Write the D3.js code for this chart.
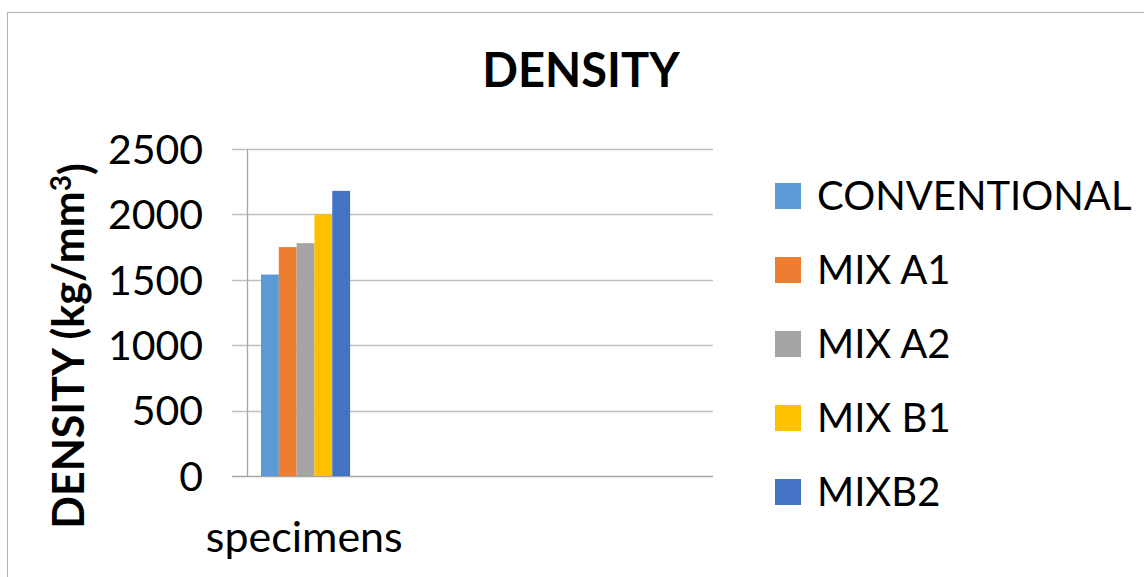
<!DOCTYPE html>
<html>
<head>
<meta charset="utf-8">
<script src="https://cdn.jsdelivr.net/npm/d3@7"></script>
<style>
  html, body { margin: 0; padding: 0; background: #fff; }
  svg { display: block; }
  text { font-family: Lato, "Open Sans", sans-serif; fill: #000; }
</style>
</head>
<body>
<svg id="chart" width="1144" height="577"></svg>
<script>
// ---- data ----
const categories = ["specimens", "", "", ""];
const seriesNames = ["CONVENTIONAL", "MIX A1", "MIX A2", "MIX B1", "MIXB2"];
const seriesValues = [1540, 1750, 1780, 2000, 2180];
const seriesColors = ["#5B9BD5", "#ED7D31", "#A5A5A5", "#FFC000", "#4472C4"];
const yTicks = [0, 500, 1000, 1500, 2000, 2500];
const chartTitle = "DENSITY";
const yTitle = "DENSITY (kg/mm";

// ---- layout ----
const svg = d3.select("#chart");
const plot = { left: 247, right: 713, top: 149, bottom: 476 };

svg.append("rect")
  .attr("x", 7.5).attr("y", 12.5)
  .attr("width", 1160).attr("height", 600)
  .attr("fill", "#fff").attr("stroke", "#b3b3b3").attr("stroke-width", 1);

const y = d3.scaleLinear().domain([0, 2500]).range([plot.bottom, plot.top]);
const x0 = d3.scaleBand().domain(d3.range(categories.length)).range([plot.left, plot.right]).padding(0);
const bw = x0.bandwidth();
const x1 = d3.scaleBand().domain(seriesNames).range([bw * 0.12, bw * 0.885]).padding(0);

// gridlines
const grid = svg.append("g");
grid.selectAll("line").data(yTicks).join("line")
  .attr("x1", plot.left - 15).attr("x2", plot.right)
  .attr("y1", d => Math.round(y(d)) + 0.5).attr("y2", d => Math.round(y(d)) + 0.5)
  .attr("stroke", d => d === 0 ? "#a6a6a6" : "#bfbfbf").attr("stroke-width", 1.3);

// vertical axis line
svg.append("line")
  .attr("x1", plot.left + 0.5).attr("x2", plot.left + 0.5)
  .attr("y1", y(2500)).attr("y2", y(0))
  .attr("stroke", "#a6a6a6").attr("stroke-width", 1.3);

// y tick labels via d3 axis
const yAxis = d3.axisLeft(y).tickValues(yTicks).tickSize(0).tickPadding(0).tickFormat(d3.format("d"));
const gy = svg.append("g").attr("transform", `translate(${plot.left - 44},0)`).call(yAxis);
gy.select(".domain").remove();
gy.selectAll("text").style("font-family", "Lato, sans-serif").style("font-size", "41px").attr("fill", "#000").attr("dy", "0.35em");

// bars
const dataRows = seriesNames.map((n, i) => ({ name: n, value: seriesValues[i], color: seriesColors[i] }));
svg.append("g").attr("transform", `translate(${x0(0)},0)`)
  .selectAll("rect").data(dataRows).join("rect")
  .attr("x", d => x1(d.name))
  .attr("width", x1.bandwidth())
  .attr("y", d => y(d.value))
  .attr("height", d => y(0) - y(d.value))
  .attr("fill", d => d.color);

// x category label
svg.append("g").selectAll("text").data(categories).join("text")
  .attr("x", (d, i) => x0(i) + bw / 2 - 1)
  .attr("y", 552)
  .attr("text-anchor", "middle")
  .style("font-size", "43px")
  .text(d => d);

// title
svg.append("text")
  .attr("x", 581).attr("y", 87)
  .attr("text-anchor", "middle")
  .style("font-size", "47px").style("font-weight", "bold")
  .text(chartTitle);

// y title
const yt = svg.append("text")
  .attr("transform", "translate(84,346) rotate(-90)")
  .attr("text-anchor", "middle")
  .style("font-size", "43px").style("font-weight", "bold");
yt.append("tspan").text(yTitle);
yt.append("tspan").attr("dy", "-0.45em").style("font-size", "28px").text("3");
yt.append("tspan").attr("dy", "0.45em").text(")");

// legend
const lg = svg.append("g").selectAll("g").data(dataRows).join("g")
  .attr("transform", (d, i) => `translate(775,${196 + i * 74})`);
lg.append("rect").attr("x", 0).attr("y", -13).attr("width", 26).attr("height", 26).attr("fill", d => d.color);
lg.append("text").attr("x", 42).attr("y", 0).attr("dy", "0.35em")
  .style("font-size", "40px").text(d => d.name);
</script>
</body>
</html>
